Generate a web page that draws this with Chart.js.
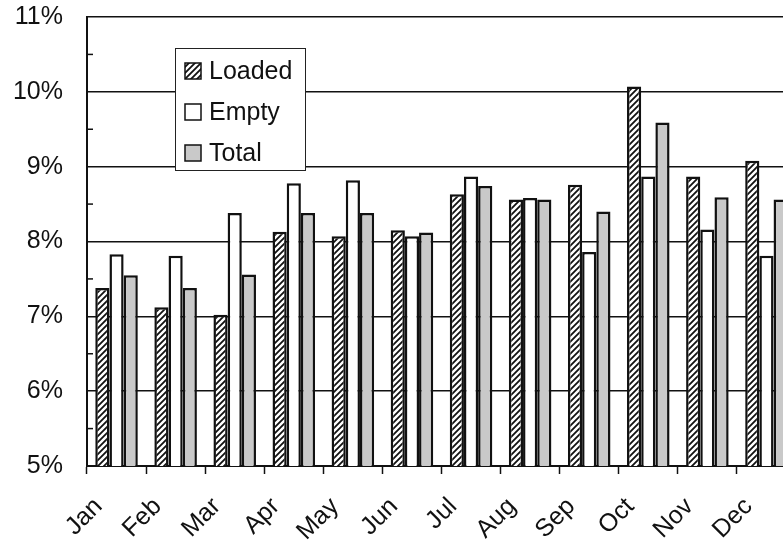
<!DOCTYPE html>
<html>
<head>
<meta charset="utf-8">
<script src="https://cdn.jsdelivr.net/npm/chart.js@4/dist/chart.umd.min.js"></script>
<style>
  html, body { margin: 0; padding: 0; background: #fff; overflow: hidden; }
  #wrap { width: 800px; height: 544px; }
</style>
</head>
<body>
<div id="wrap"><canvas id="myChart" width="800" height="544"></canvas></div>
<script>
const months = ["Jan", "Feb", "Mar", "Apr", "May", "Jun", "Jul", "Aug", "Sep", "Oct", "Nov", "Dec"];
const loaded = [7.38, 7.12, 7.02, 8.13, 8.07, 8.15, 8.63, 8.56, 8.76, 10.07, 8.87, 9.08];
const empty  = [7.83, 7.81, 8.38, 8.78, 8.82, 8.07, 8.87, 8.58, 7.86, 8.87, 8.16, 7.81];
const total  = [7.55, 7.38, 7.56, 8.38, 8.38, 8.12, 8.74, 8.56, 8.40, 9.59, 8.59, 8.56];
const yTicks = [5, 6, 7, 8, 9, 10, 11];

const FONT = "'Liberation Sans', Arial, Helvetica, sans-serif";

// diagonal hatch for "Loaded"
function hatch() {
  const c = document.createElement("canvas");
  c.width = 6; c.height = 6;
  const g = c.getContext("2d");
  g.fillStyle = "#fff";
  g.fillRect(0, 0, 6, 6);
  g.strokeStyle = "#111";
  g.lineWidth = 1.8;
  g.beginPath();
  g.moveTo(-1, 7); g.lineTo(7, -1);
  g.moveTo(-1, 1); g.lineTo(1, -1);
  g.moveTo(5, 7); g.lineTo(7, 5);
  g.stroke();
  return g.createPattern(c, "repeat");
}

const fills = [hatch(), "#ffffff", "#c9c9c9"];

// half-percent minor ticks inside the axis + legend box
const extras = {
  id: "extras",
  beforeDatasetsDraw(chart) {
    const ctx = chart.ctx, y = chart.scales.y, a = chart.chartArea;
    ctx.save();
    ctx.strokeStyle = "#111";
    ctx.lineWidth = 1.5;
    for (let i = 0; i < yTicks.length - 1; i++) {
      const py = y.getPixelForValue(yTicks[i] + 0.5);
      ctx.beginPath();
      ctx.moveTo(a.left, py);
      ctx.lineTo(a.left + 6, py);
      ctx.stroke();
    }
    ctx.restore();
  },
  afterDraw(chart) {
    const ctx = chart.ctx, a = chart.chartArea;
    const bx = a.left + 88, by = a.top + 31, bw = 130, bh = 122;
    ctx.save();
    ctx.fillStyle = "#fff";
    ctx.fillRect(bx, by, bw, bh);
    ctx.strokeStyle = "#222";
    ctx.lineWidth = 1;
    ctx.strokeRect(bx + 0.5, by + 0.5, bw, bh);
    ctx.font = "25px " + FONT;
    ctx.textBaseline = "middle";
    chart.data.datasets.forEach((ds, i) => {
      const cy = by + 23 + i * 41;
      ctx.fillStyle = ds.backgroundColor;
      ctx.fillRect(bx + 10, cy - 8, 16, 16);
      ctx.strokeStyle = "#111";
      ctx.lineWidth = 1.5;
      ctx.strokeRect(bx + 10, cy - 8, 16, 16);
      ctx.fillStyle = "#111";
      ctx.fillText(ds.label, bx + 34, cy + 1);
    });
    ctx.restore();
  }
};

new Chart("myChart", {
  type: "bar",
  data: {
    labels: months,
    datasets: [
      { label: "Loaded", data: loaded, backgroundColor: fills[0] },
      { label: "Empty", data: empty, backgroundColor: fills[1] },
      { label: "Total", data: total, backgroundColor: fills[2] }
    ].map(d => Object.assign(d, {
      borderColor: "#111",
      borderWidth: 2.5,
      borderSkipped: "bottom",
      categoryPercentage: 0.72,
      barPercentage: 1.0
    }))
  },
  plugins: [extras],
  options: {
    responsive: false,
    animation: false,
    layout: { padding: { top: 17, right: 4, left: 0, bottom: 0 } },
    plugins: {
      legend: { display: false },
      tooltip: { enabled: false }
    },
    scales: {
      x: {
        afterFit: s => { s.height = 78; s.paddingLeft = 0; s.paddingRight = 0; },
        grid: {
          offset: true,
          drawOnChartArea: false,
          drawTicks: true,
          tickLength: 8,
          tickColor: "#111",
          tickWidth: 1.5
        },
        border: { display: true, color: "#111", width: 2 },
        ticks: {
          minRotation: 45,
          maxRotation: 45,
          autoSkip: false,
          padding: 18,
          labelOffset: -18,
          color: "#111",
          font: { family: FONT, size: 25 }
        }
      },
      y: {
        min: 5,
        max: 11,
        afterFit: s => { s.width = 87; s.paddingTop = 0; s.paddingBottom = 0; },
        afterBuildTicks: s => { s.ticks = yTicks.map(v => ({ value: v })); },
        grid: { color: "#111", lineWidth: 1.5, drawTicks: false },
        border: { display: true, color: "#111", width: 2 },
        ticks: {
          padding: 24,
          color: "#111",
          font: { family: FONT, size: 25 },
          callback: v => v + "%"
        }
      }
    }
  }
});
</script>
</body>
</html>
